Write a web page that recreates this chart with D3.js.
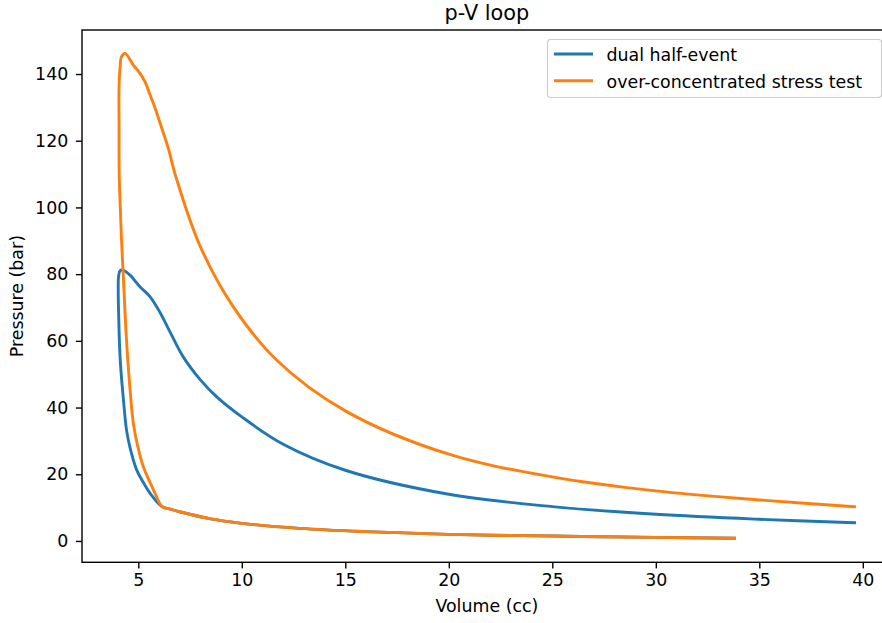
<!DOCTYPE html>
<html>
<head>
<meta charset="utf-8">
<script src="https://cdn.jsdelivr.net/npm/d3@7"></script>
<style>
  html, body { margin: 0; padding: 0; background: #fff; overflow: hidden; }
  svg { display: block; font-family: 'DejaVu Sans', sans-serif; }
</style>
</head>
<body>
<div id="chart"></div>
<script>
/* ---------- data ---------- */
const seriesNames = ['dual half-event', 'over-concentrated stress test'];
const seriesColors = ['#1f77b4', '#ff7f0e'];

// dual half-event: compression (right to left), spike, expansion (left to right)
const dualVolume = [33.8, 30, 27.3, 25, 20, 16, 12.8, 10, 8.5, 7.0, 6.5, 6.15,
  5.57, 5.2, 4.92, 4.6, 4.43, 4.3, 4.2, 4.13, 4.08, 4.05, 4.03, 4.05, 4.12, 4.25,
  4.6, 5.08, 5.57, 6.05, 6.53, 7.17, 8.0, 8.79, 10, 12, 15, 20, 25, 30, 35, 39.6];
const dualPressure = [0.8, 1.08, 1.26, 1.47, 1.98, 2.8, 3.78, 5.28, 6.6, 8.76, 9.6, 10.3,
  14.3, 18, 21.3, 28, 33.3, 41, 48, 54, 61, 68, 75, 79.5, 81, 81.2,
  79.7, 76.2, 73.2, 68.5, 62.7, 55.2, 48.3, 43.2, 37.2, 29, 21.2, 14.0, 10.3, 8.0, 6.5, 5.46];

// over-concentrated stress test
const stressVolume = [33.8, 30, 27.3, 25, 20, 16, 12.8, 10, 8.5, 7.0, 6.5, 6.15,
  5.81, 5.24, 4.95, 4.76, 4.62, 4.43, 4.27, 4.19, 4.13, 4.08, 4.07, 4.07, 4.12, 4.19, 4.36,
  4.76, 5.08, 5.32, 5.57, 5.81, 6.05, 6.45, 6.8, 7.98, 9.59, 11.69, 15, 20, 25, 30, 35, 39.6];
const stressPressure = [0.8, 1.08, 1.26, 1.47, 1.98, 2.8, 3.78, 5.28, 6.6, 8.76, 9.6, 10.3,
  14.3, 22.3, 29, 35.3, 44, 60.2, 80.2, 90.2, 100, 109.2, 125, 136.2, 142, 145.2, 146.2,
  142.7, 140.2, 137.7, 133.7, 129.8, 125.3, 117.7, 109.5, 88.5, 70.2, 54.2, 39, 26, 19.2, 15, 12.3, 10.25];

const xTicks = [5, 10, 15, 20, 25, 30, 35, 40];
const yTicks = [0, 20, 40, 60, 80, 100, 120, 140];

/* ---------- layout ---------- */
const W = 882, H = 623;
const plot = { left: 82, top: 30, right: 891.8, bottom: 562.3 };
const FONT = "'DejaVu Sans', sans-serif";
const FS = '17.4px';

const svg = d3.select('#chart').append('svg')
  .attr('width', W).attr('height', H)
  .attr('viewBox', `0 0 ${W} ${H}`);

const x = d3.scaleLinear().domain([2.28, 41.4]).range([plot.left, plot.right]);
const y = d3.scaleLinear().domain([-6.4, 153.2]).range([plot.bottom, plot.top]);

svg.append('defs').append('clipPath').attr('id', 'clip')
  .append('rect')
  .attr('x', plot.left).attr('y', plot.top)
  .attr('width', plot.right - plot.left).attr('height', plot.bottom - plot.top);

/* ---------- lines ---------- */
const line = d3.line()
  .x(d => x(d[0]))
  .y(d => y(d[1]))
  .curve(d3.curveCatmullRom.alpha(0.5));

const series = [
  d3.zip(dualVolume, dualPressure),
  d3.zip(stressVolume, stressPressure)
];

const lines = svg.append('g').attr('clip-path', 'url(#clip)');
series.forEach((pts, i) => {
  lines.append('path')
    .attr('d', line(pts))
    .attr('fill', 'none')
    .attr('stroke', seriesColors[i])
    .attr('stroke-width', 2.9)
    .attr('stroke-linejoin', 'round')
    .attr('stroke-linecap', 'square');
});

/* ---------- axes ---------- */
function styleAxis(sel) {
  sel.select('.domain').remove();
  sel.selectAll('line').attr('stroke', '#000').attr('stroke-width', 1.4);
  sel.selectAll('text')
    .attr('fill', '#000')
    .style('font-size', FS)
    .style('font-family', FONT);
}

const xAxis = svg.append('g')
  .attr('transform', `translate(0,${plot.bottom})`)
  .call(d3.axisBottom(x).tickValues(xTicks).tickSize(6.1).tickPadding(5.6).tickFormat(d3.format('d')));
styleAxis(xAxis);

const yAxis = svg.append('g')
  .attr('transform', `translate(${plot.left},0)`)
  .call(d3.axisLeft(y).tickValues(yTicks).tickSize(6.1).tickPadding(7.6).tickFormat(d3.format('d')));
styleAxis(yAxis);

// spines (left, bottom, top; the right one falls outside the picture)
svg.append('rect')
  .attr('x', plot.left).attr('y', plot.top)
  .attr('width', plot.right - plot.left).attr('height', plot.bottom - plot.top)
  .attr('fill', 'none')
  .attr('stroke', '#000')
  .attr('stroke-width', 1.4);

/* ---------- labels ---------- */
const cx = (plot.left + plot.right) / 2;
svg.append('text')
  .attr('x', cx).attr('y', 20)
  .attr('text-anchor', 'middle')
  .style('font-size', '20.8px')
  .style('font-family', FONT)
  .text('p-V loop');

svg.append('text')
  .attr('x', cx).attr('y', 612)
  .attr('text-anchor', 'middle')
  .style('font-size', FS)
  .style('font-family', FONT)
  .text('Volume (cc)');

svg.append('text')
  .attr('transform', `translate(23,${(plot.top + plot.bottom) / 2}) rotate(-90)`)
  .attr('text-anchor', 'middle')
  .style('font-size', FS)
  .style('font-family', FONT)
  .text('Pressure (bar)');

/* ---------- legend ---------- */
const legend = svg.append('g').attr('transform', 'translate(547.5,39.5)');
legend.append('rect')
  .attr('width', 334).attr('height', 58).attr('rx', 3)
  .attr('fill', '#fff').attr('fill-opacity', 0.8)
  .attr('stroke', '#ccc').attr('stroke-width', 1.1);

seriesNames.forEach((name, i) => {
  const row = legend.append('g').attr('transform', `translate(0,${14.5 + i * 26.7})`);
  row.append('line')
    .attr('x1', 6.5).attr('x2', 45.5)
    .attr('stroke', seriesColors[i])
    .attr('stroke-width', 2.9);
  row.append('text')
    .attr('x', 59).attr('y', 7.3)
    .style('font-size', FS)
    .style('font-family', FONT)
    .text(name);
});
</script>
</body>
</html>
